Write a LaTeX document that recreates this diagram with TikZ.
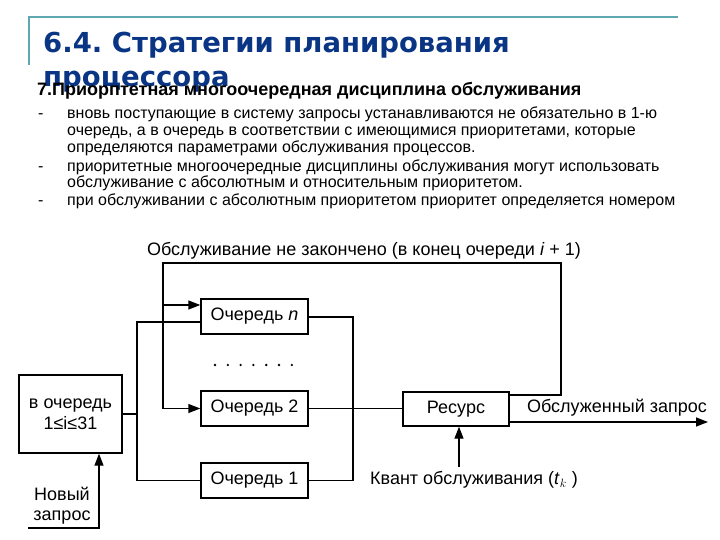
\documentclass[tikz,border=0pt]{standalone}
\usepackage{fontspec}
\setmainfont{Liberation Sans}
\newfontfamily\titlefont{DejaVu Sans}
\usetikzlibrary{arrows.meta}
\definecolor{titleblue}{HTML}{0A3585}
\definecolor{tealline}{HTML}{5FA8B2}
\frenchspacing
\begin{document}
\begin{tikzpicture}[x=1pt,y=-1pt,
  box/.style={draw,line width=1.4pt,rectangle,inner sep=0pt,font=\fontsize{18}{20}\selectfont},
  conn/.style={line width=1.4pt},
  arr/.style={line width=1.4pt,-{Triangle[length=12pt,width=9pt]}},
  lbl/.style={inner sep=0pt,font=\fontsize{18}{20}\selectfont},
  body/.style={anchor=base west,inner sep=0pt,font=\fontsize{16}{17}\selectfont}]
\useasboundingbox (0,0) rectangle (720,540);
% header
\draw[tealline,line width=1.6pt] (29,65) -- (29,17) -- (678,17);
\node[anchor=base west,inner sep=0pt,text=titleblue,font=\titlefont\bfseries\fontsize{27.5}{34}\selectfont] (t1) at (43,53) {6.4. Стратегии планирования};
\node[anchor=base west,inner sep=0pt,text=titleblue,font=\titlefont\bfseries\fontsize{27.5}{34}\selectfont] (t2) at (43,87) {процессора};
\node[anchor=base west,inner sep=0pt,font=\bfseries\fontsize{18}{20}\selectfont] (h) at (37,96) {7.Приорптетная многоочередная дисциплина обслуживания};
\foreach \y in {119,172,206} \node[body] at (38,\y) {-};
\node[body] (b1) at (67,119) {вновь поступающие в систему запросы устанавливаются не обязательно в 1-ю};
\node[body] (b2) at (67,136) {очередь, а в очередь в соответствии с имеющимися приоритетами, которые};
\node[body] (b3) at (67,153) {определяются параметрами обслуживания процессов.};
\node[body] (b4) at (67,172) {приоритетные многоочередные дисциплины обслуживания могут использовать};
\node[body] (b5) at (67,188) {обслуживание с абсолютным и относительным приоритетом.};
\node[body] (b6) at (67,206) {при обслуживании с абсолютным приоритетом приоритет определяется номером};
% diagram boxes
\node[box,minimum width=107pt,minimum height=35pt] (qn) at (254.5,316.5) {Очередь \textit{n}};
\node[box,minimum width=107pt,minimum height=35pt] (q2) at (254.5,408.5) {Очередь 2};
\node[box,minimum width=107pt,minimum height=35pt] (q1) at (254.5,480.5) {Очередь 1};
\node[box,minimum width=103pt,minimum height=78pt,align=center] (vo) at (70.5,414) {в очередь\\[1pt]1≤i≤31};
\node[box,minimum width=106pt,minimum height=34pt] (res) at (456,409) {Ресурс};
\foreach \i in {0,...,6} \fill (215+\i*12.8,365) circle (1.3pt);
% labels
\node[lbl] (top) at (364,251) {Обслуживание не закончено (в конец очереди \textit{i} + 1)};
\node[lbl] (done) at (617,408) {Обслуженный запрос};
\node[lbl] (quant) at (474,480) {Квант обслуживания (\textit{t}$_{k}$ )};
\node[lbl,align=center] (new) at (62,506) {Новый\\[0pt]запрос};
% distribution
\coordinate (dv) at (137,414);
\coordinate (d1) at (137,322);
\coordinate (d2) at (137,480.5);
\draw[conn] (vo.east) -- (dv);
\draw[conn] (qn.west |- d1) -- (d1) -- (d2) -- (q1.west);
% collecting
\coordinate (c1) at (353,317);
\coordinate (c2) at (353,480.5);
\draw[conn] (qn.east |- c1) -- (c1) -- (c2) -- (q1.east);
\draw[conn] (q2.east) -- (res.west |- q2.east);
% feedback
\coordinate (f0) at (res.east |- 0,395);
\coordinate (f1) at (561,395);
\coordinate (f2) at (561,263);
\coordinate (f3) at (163,263);
\coordinate (f4) at (163,305);
\coordinate (f5) at (163,408.5);
\draw[conn] (f0) -- (f1) -- (f2) -- (f3) -- (f5);
\draw[arr] (f5) -- (q2.west);
\draw[arr] (f4) -- (qn.west |- f4);
% output
\coordinate (o0) at (res.east |- 0,422);
\coordinate (o1) at (708,422);
\draw[arr] (o0) -- (o1);
% quantum
\coordinate (k0) at (459,467);
\draw[arr] (k0) -- (k0 |- res.south);
% new request
\coordinate (n0) at (28,528);
\coordinate (n1) at (99,528);
\draw[arr] (n0) -- (n1) -- (n1 |- vo.south);
\end{tikzpicture}
\end{document}
